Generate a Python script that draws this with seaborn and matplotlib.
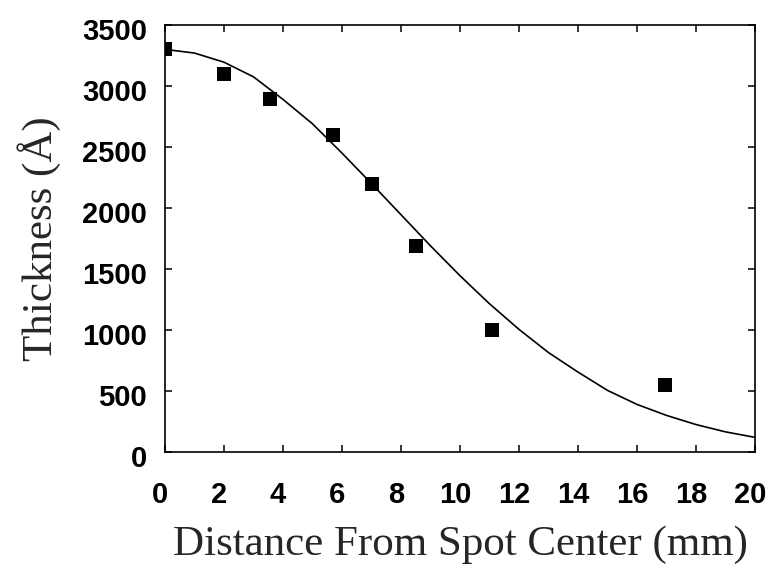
import matplotlib
matplotlib.use("Agg")
import matplotlib.pyplot as plt
import matplotlib.transforms as mtransforms
import seaborn as sns
import pandas as pd

# Measured data points
meas_x = [0.0, 2.0, 3.55, 5.7, 7.0, 8.5, 11.1, 16.95]
meas_y = [3305, 3100, 2895, 2600, 2195, 1690, 1000, 550]

# Fitted curve
curve_x = [0, 1, 2, 3, 4, 5, 6, 7, 8, 9, 10, 11, 12, 13, 14, 15, 16, 17, 18, 19, 20]
curve_y = [3300, 3270, 3195, 3075, 2890, 2690, 2450, 2200, 1945, 1690, 1445,
           1215, 1005, 815, 655, 505, 390, 300, 225, 165, 120]

x_ticks = [0, 2, 4, 6, 8, 10, 12, 14, 16, 18, 20]
y_ticks = [0, 500, 1000, 1500, 2000, 2500, 3000, 3500]

sns.set_theme(style="white")
plt.rcParams['font.family'] = ['Liberation Sans', 'DejaVu Sans']

fig = plt.figure(figsize=(7.75, 5.69), dpi=100)
ax = fig.add_axes([165/775, 1 - 452/569, 590/775, 427/569])

curve_df = pd.DataFrame({"x": curve_x, "y": curve_y})
meas_df = pd.DataFrame({"x": meas_x, "y": meas_y})

sns.lineplot(data=curve_df, x="x", y="y", ax=ax, color="black", linewidth=1.2,
             sort=False, estimator=None)
sns.scatterplot(data=meas_df, x="x", y="y", ax=ax, marker="s", s=110,
                color="black", edgecolor="black", linewidth=0, zorder=3)

ax.set_xlim(0, 20)
ax.set_ylim(0, 3500)
ax.set_xticks(x_ticks)
ax.set_yticks(y_ticks)
ax.set_xticklabels([str(v) for v in x_ticks], fontweight="bold", fontsize=21)
ax.set_yticklabels([str(v) for v in y_ticks], fontweight="bold", fontsize=21)
ax.tick_params(direction="in", length=5, width=1.1, top=True, right=True,
               bottom=True, left=True, colors="black")
ax.tick_params(axis="y", pad=13)
ax.tick_params(axis="x", pad=21)

# small offsets of the tick labels as in the reference
xoff = mtransforms.ScaledTranslation(-5/100, 0, fig.dpi_scale_trans)
yoff = mtransforms.ScaledTranslation(0, -4/100, fig.dpi_scale_trans)
for lab in ax.get_xticklabels():
    lab.set_transform(lab.get_transform() + xoff)
for lab in ax.get_yticklabels():
    lab.set_transform(lab.get_transform() + yoff)

for sp in ax.spines.values():
    sp.set_visible(True)
    sp.set_color("black")
    sp.set_linewidth(1.2)

ax.set_xlabel("Distance From Spot Center (mm)", family="Liberation Serif",
              fontsize=31, labelpad=12)
ax.set_ylabel("Thickness (Å)", family="Liberation Serif", fontsize=31,
              labelpad=15)

fig.savefig("out.png", dpi=100)
